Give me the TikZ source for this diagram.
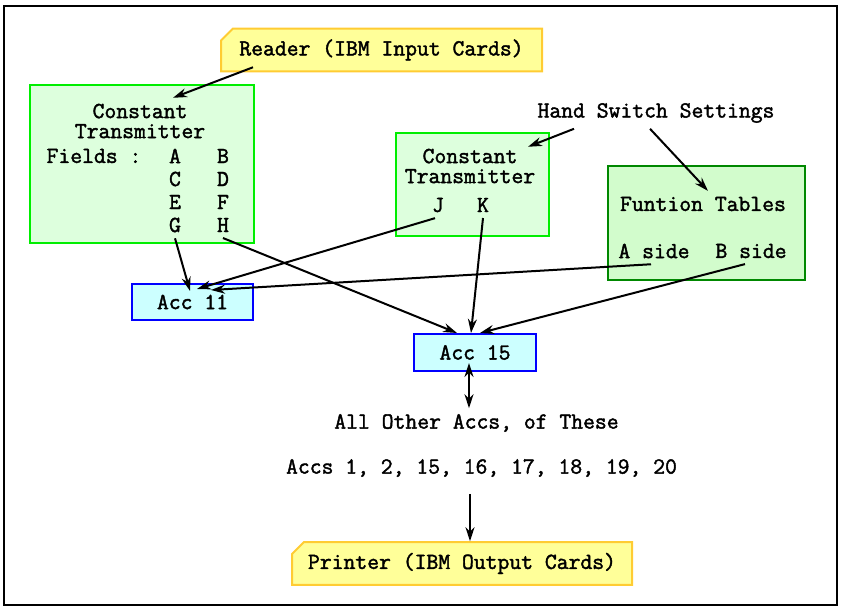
\documentclass[tikz,border=0pt]{standalone}
\usepackage{fontspec}
\setmonofont[FakeBold=1.8]{Latin Modern Mono}
\usetikzlibrary{arrows.meta,shapes.misc,positioning}
\definecolor{cardfill}{HTML}{FFFF99}
\definecolor{carddraw}{HTML}{FFCC33}
\definecolor{ctfill}{HTML}{DDFFDD}
\definecolor{ctdraw}{HTML}{00EE00}
\definecolor{ftfill}{HTML}{D2FCCC}
\definecolor{ftdraw}{HTML}{008800}
\definecolor{accfill}{HTML}{CCFFFF}

\begin{document}
\begin{tikzpicture}
[x=0.5pt,y=-0.5pt,line width=1pt,>={Stealth[length=7pt,width=4.5pt]},
every node/.style={font=\ttfamily\fontsize{11.5}{10}\selectfont,inner sep=2.5pt},
card/.style={chamfered rectangle,chamfered rectangle corners=north west,
	chamfered rectangle xsep=3pt,draw=carddraw,fill=cardfill},
ctbox/.style={draw=ctdraw,fill=ctfill},
ftbox/.style={draw=ftdraw,fill=ftfill},
accbox/.style={draw=blue,fill=accfill}]
\useasboundingbox (0,0) rectangle (841,609);
\draw (4,6) rectangle (837,605);

% boxes
\node[card,minimum width=160.5pt,minimum height=18pt] (reader) at (381.5,50) {Reader (IBM Input Cards)};
\node[ctbox,minimum width=112pt,minimum height=79pt] (ct1) at (141.75,164) {};
\node[ctbox,minimum width=76.5pt,minimum height=51.5pt] (ct2) at (472.5,184.5) {};
\node[ftbox,minimum width=98.5pt,minimum height=57pt] (ftab) at (706.5,223) {};
\node[accbox,minimum width=60.5pt,minimum height=18pt] (acc11) at (192.5,302) {Acc 11};
\node[accbox,minimum width=61pt,minimum height=18.5pt] (acc15) at (475,352.5) {Acc 15};
\node[card,minimum width=170pt,minimum height=18.5pt] (printer) at (462,563.5) {Printer (IBM Output Cards)};

% texts
\node[align=center] (ct1name) at (140,121) {Constant\\Transmitter};
\node (fields) at (94,156) {Fields :};
\foreach \a/\b [count=\i] in {A/B,C/D,E/F,G/H} {
	\node (f\a) at (175,133+23*\i) {\a};
	\node (f\b) at (223,133+23*\i) {\b};
}
\node[align=center] (ct2name) at (470,166) {Constant\\Transmitter};
\node (fJ) at (438,205) {J};
\node (fK) at (483,205) {K};
\node (hand) at (656,113) {Hand Switch Settings};
\node (ftname) at (703,204) {Funtion Tables};
\node (aside) at (654,251) {A side};
\node (bside) at (751,251) {B side};
\node (other) at (476.5,423) {All Other Accs, of These};
\node (accs) at (481.5,468) {Accs 1, 2, 15, 16, 17, 18, 19, 20};

% connectors
\draw[->] ([xshift=16.5pt,yshift=2.5pt]reader.south west) -- ([xshift=16.5pt]ct1name.north);
\draw[->] ([xshift=-41pt]hand.south) -- ([xshift=29pt,yshift=-2pt]ct2name.north);
\draw[->] ([xshift=-3pt]hand.south) -- ([xshift=2.5pt]ftname.north);
\draw[->] (fG.south) -- ([xshift=-1.25pt,yshift=-4pt]acc11.north);
\draw[->] ([xshift=-1.5pt]fJ.south) -- ([xshift=2.25pt,yshift=-3pt]acc11.north);
\draw[->] ([xshift=-1.5pt]aside.south) -- ([xshift=9.25pt,yshift=-3.5pt]acc11.north);
\draw[->] (fH.south) -- ([xshift=-9pt]acc15.north);
\draw[->] (fK.south) -- ([xshift=-2pt]acc15.north);
\draw[->] ([xshift=-3pt]bside.south) -- ([xshift=2.5pt]acc15.north);
\draw[<->] ([xshift=-3pt,yshift=4.5pt]acc15.south) -- ([xshift=-3.75pt]other.north);
\draw[->] ([xshift=-5.75pt,yshift=-5.5pt]accs.south) -- ([xshift=4pt]printer.north);
\end{tikzpicture}
\end{document}
